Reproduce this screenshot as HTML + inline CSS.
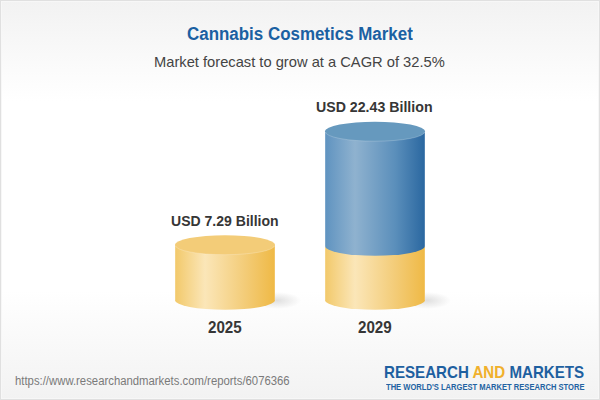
<!DOCTYPE html>
<html><head><meta charset="utf-8">
<style>
html,body{margin:0;padding:0;}
body{width:600px;height:400px;overflow:hidden;position:relative;font-family:"Liberation Sans",Arial,sans-serif;}
#bg{position:absolute;left:0;top:0;width:598px;height:398px;border:1px solid #e0e0e0;box-shadow:inset 0 0 0 1px #f7f7f7;
background:linear-gradient(to bottom,#f2f2f2 0px,#ffffff 100px,#ffffff 290px,#f2f2f2 400px);}
.t{position:absolute;white-space:nowrap;line-height:1;transform-origin:0 0;}
#title{left:187.04px;top:24.51px;font-size:18.3px;transform:scaleX(0.9262);}
#sub{left:154.01px;top:54.30px;font-size:15px;transform:scaleX(0.9797);}
#v1{left:170.85px;top:212.93px;font-size:15.2px;transform:scaleX(0.9241);}
#v2{left:316.45px;top:99.43px;font-size:15.2px;transform:scaleX(0.9331);}
#y1{left:208.00px;top:319.63px;font-size:15.8px;transform:scaleX(0.9600);}
#y2{left:358.00px;top:319.63px;font-size:15.8px;transform:scaleX(0.9600);}
#url{left:15.42px;top:375.04px;font-size:12px;transform:scaleX(0.9445);}
#logo{left:384.45px;top:363.69px;font-size:16.2px;transform:scaleX(0.9336);}
#tag{left:385.56px;top:382.64px;font-size:8.7px;transform:scaleX(0.8732);}
#title{font-weight:bold;color:#1b60a2;}
#sub{color:#444;}
.val{font-weight:bold;color:#363636;}
#url{color:#7a7a7a;}
#logo{font-weight:bold;color:#1e60a0;}
#logo span{color:#f0b02c;}
#tag{font-weight:bold;color:#2363a2;}
svg{position:absolute;left:0;top:0;}
</style></head>
<body>
<div id="bg"></div>
<svg width="600" height="400" viewBox="0 0 600 400">
<defs>
<linearGradient id="ys" x1="0" x2="1" y1="0" y2="0">
<stop offset="0" stop-color="#f2c96a"/>
<stop offset="0.3" stop-color="#fbe6b8"/>
<stop offset="0.7" stop-color="#f3cc78"/>
<stop offset="1" stop-color="#efb945"/>
</linearGradient>
<linearGradient id="bs" x1="0" x2="1" y1="0" y2="0">
<stop offset="0" stop-color="#5f93c0"/>
<stop offset="0.3" stop-color="#8fb2cf"/>
<stop offset="0.7" stop-color="#5b8fbb"/>
<stop offset="1" stop-color="#2a67a0"/>
</linearGradient>
<radialGradient id="sh" cx="0.5" cy="0.5" r="0.5">
<stop offset="0" stop-color="#000" stop-opacity="0.12"/>
<stop offset="1" stop-color="#000" stop-opacity="0"/>
</radialGradient>
</defs>
<!-- shadows -->
<ellipse cx="277" cy="300.5" rx="24" ry="8.5" fill="url(#sh)"/>
<ellipse cx="427" cy="300.5" rx="24" ry="8.5" fill="url(#sh)"/>
<!-- left cylinder -->
<path d="M175 245 V300 A50 9.8 0 0 0 275 300 V245 Z" fill="url(#ys)"/>
<ellipse cx="225" cy="245" rx="50" ry="9.8" fill="#f3cc78"/>
<path d="M175.5 245.5 A49.5 9.2 0 0 0 274.5 245.5" fill="none" stroke="#fff" stroke-opacity="0.22" stroke-width="1"/>
<!-- right cylinder yellow -->
<path d="M325 246 V300 A50 9.8 0 0 0 425 300 V246 Z" fill="url(#ys)"/>
<!-- right cylinder blue -->
<path d="M325 131.5 V246 A50 9.8 0 0 0 425 246 V131.5 Z" fill="url(#bs)"/>
<ellipse cx="375" cy="131.5" rx="50" ry="9.8" fill="#6699be"/>
<path d="M325.5 132 A49.5 9.2 0 0 0 424.5 132" fill="none" stroke="#fff" stroke-opacity="0.2" stroke-width="1"/>
<g stroke="#fff" stroke-width="1" stroke-opacity="0.18">
<line x1="175.5" y1="246" x2="175.5" y2="300"/><line x1="274.5" y1="246" x2="274.5" y2="300"/>
<line x1="325.5" y1="132" x2="325.5" y2="300"/><line x1="424.5" y1="132" x2="424.5" y2="300"/>
</g>
</svg>
<div class="t" id="title">Cannabis Cosmetics Market</div>
<div class="t" id="sub">Market forecast to grow at a CAGR of 32.5%</div>
<div class="t val" id="v1">USD 7.29 Billion</div>
<div class="t val" id="v2">USD 22.43 Billion</div>
<div class="t val" id="y1">2025</div>
<div class="t val" id="y2">2029</div>
<div class="t" id="url">https://www.researchandmarkets.com/reports/6076366</div>
<div class="t" id="logo">RESEARCH <span>AND</span> MARKETS</div>
<div class="t" id="tag">THE WORLD'S LARGEST MARKET RESEARCH STORE</div>
</body></html>
